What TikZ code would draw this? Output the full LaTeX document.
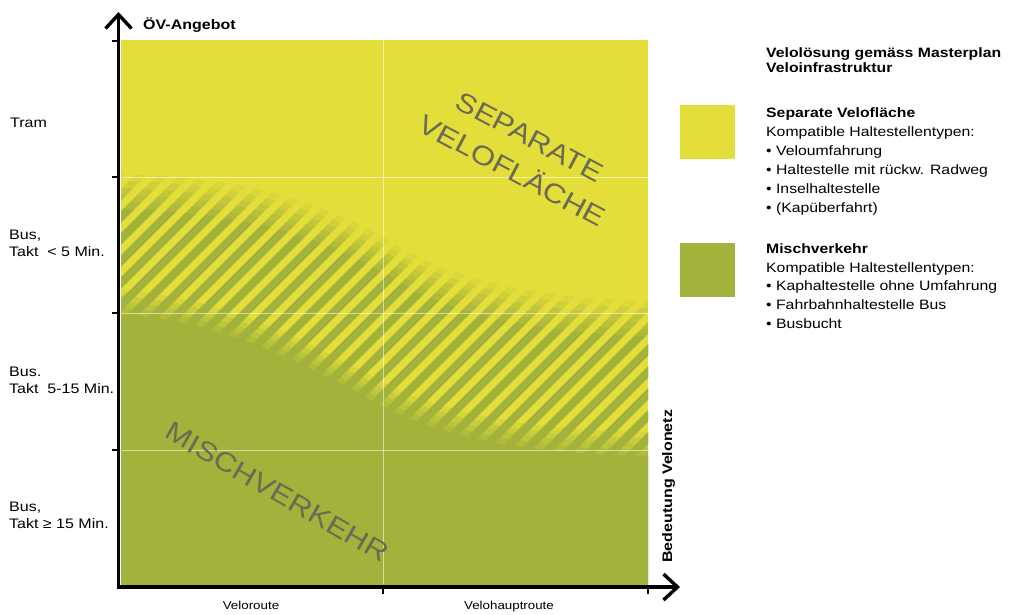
\documentclass[tikz,border=0pt]{standalone}
\usepackage{fontspec}
\setmainfont{Liberation Sans}[FakeStretch=1.16]
\usetikzlibrary{arrows.meta}
\definecolor{veloyellow}{RGB}{228,222,58}
\definecolor{velogreen}{RGB}{162,178,58}
\definecolor{watermark}{RGB}{107,107,85}
\newcommand{\topedge}{(121,195) .. controls (250,198) and (330,225) .. (400,268) .. controls (460,305) and (560,320) .. (648,322)}
\newcommand{\botedge}{(121,302) .. controls (230,310) and (310,355) .. (390,398) .. controls (460,432) and (560,443) .. (648,444)}

\begin{document}
\begin{tikzpicture}[x=1pt, y=-1pt,
  axis/.style={line width=3.4pt, -{Straight Barb[length=14pt,width=26pt]}},
  tick/.style={line width=1.6pt},
  grid/.style={white, opacity=0.55, line width=0.9pt},
  stripe/.style={velogreen, line width=8pt},
  ylab/.style={font=\fontsize{13.8}{16.5}\selectfont, inner sep=0, align=left},
  xlab/.style={font=\fontsize{11.5}{13}\selectfont, inner sep=0, anchor=base},
  axtitle/.style={font=\bfseries\fontsize{13.8}{15}\selectfont, inner sep=0},
  zone/.style={font=\fontsize{27}{38}\selectfont, text=watermark, inner sep=0, align=center},
  legtext/.style={font=\fontsize{13.6}{19}\selectfont, inner sep=0, align=left, anchor=north west},
  swatch/.style={minimum width=55pt, minimum height=54pt, inner sep=0, anchor=north west}
]
\useasboundingbox[fill=white] (0,0) rectangle (1014,614);

\fill[veloyellow] (121,40) rectangle (648,584);
\begin{scope}
  \clip (121,40) rectangle (648,584);
  \foreach \lift/\op in {21/0.15, 14/0.2, 7/0.25, 0/0.3, -7/0.4, -14/1} {
    \begin{scope}
      \clip[yshift=\lift pt] \topedge -- (700,700) -- (60,700) -- cycle;
      \clip[yshift=-14pt] \botedge -- (700,0) -- (60,0) -- cycle;
      \foreach \s in {-620,-598,...,700}
        \draw[stripe, opacity=\op] (\s,650) -- ++(650,-650);
    \end{scope}
  }
  \foreach \lift/\op in {12/0.2, 6/0.25, 0/0.3, -6/0.4, -12/1}
    \fill[velogreen, opacity=\op, yshift=\lift pt] \botedge -- (700,700) -- (60,700) -- cycle;
\end{scope}

\draw[grid] (383,40) -- (383,584);
\foreach \y in {177,313,450}
  \draw[grid] (121,\y) -- (648,\y);

\node[zone, rotate=-28] (sepzone) at (521,154) {SEPARATE\\VELOFLÄCHE};
\node[zone, rotate=-30] (mixzone) at (277,492) {MISCHVERKEHR};

\coordinate (ybase) at (118.5,588.7);
\coordinate (ytip) at (118.5,12);
\coordinate (origin) at (116.8,587);
\coordinate (xtip) at (680,587);
\draw[axis] (ybase) -- (ytip);
\draw[axis] (origin) -- (xtip);
\foreach \y in {41,177,313,450}
  \draw[tick] (112,\y) -- (118,\y);
\foreach \x in {383,648}
  \draw[tick] (\x,587) -- (\x,594);

\node[axtitle, anchor=base west] (oev) at (143,29) {ÖV-Angebot};
\node[axtitle, anchor=base west, rotate=90] (velonetz) at (672,563) {Bedeutung Velonetz};

\node[ylab, anchor=base west] (tram) at (10,127) {Tram};
\node[ylab, anchor=north west] (busfive) at (9,230) {Bus,\\Takt\ \ < 5 Min.};
\node[ylab, anchor=north west] (busmid) at (9,367) {Bus.\\Takt\ \ 5-15 Min.};
\node[ylab, anchor=north west] (busslow) at (9,502) {Bus,\\Takt\ ≥ 15 Min.};

\node[xlab] (veloroute) at (251,609) {Veloroute};
\node[xlab] (hauptroute) at (509,609) {Velohauptroute};

\node[legtext, font=\bfseries\fontsize{13.6}{15.5}\selectfont] (legtitle) at (766,47) {Velolösung gemäss Masterplan\\Veloinfrastruktur};
\node[swatch, fill=veloyellow] (sepbox) at (680,105) {};
\node[legtext] (sepinfo) at (766,107.3) {\textbf{Separate Velofläche}\\Kompatible Haltestellentypen:\\• Veloumfahrung\\• Haltestelle mit rückw. Radweg\\• Inselhaltestelle\\• (Kapüberfahrt)};
\node[swatch, fill=velogreen] (mixbox) at (680,243) {};
\node[legtext, font=\fontsize{13.6}{18.8}\selectfont] (mixinfo) at (766,243.3) {\textbf{Mischverkehr}\\Kompatible Haltestellentypen:\\• Kaphaltestelle ohne Umfahrung\\• Fahrbahnhaltestelle Bus\\• Busbucht};
\end{tikzpicture}
\end{document}
